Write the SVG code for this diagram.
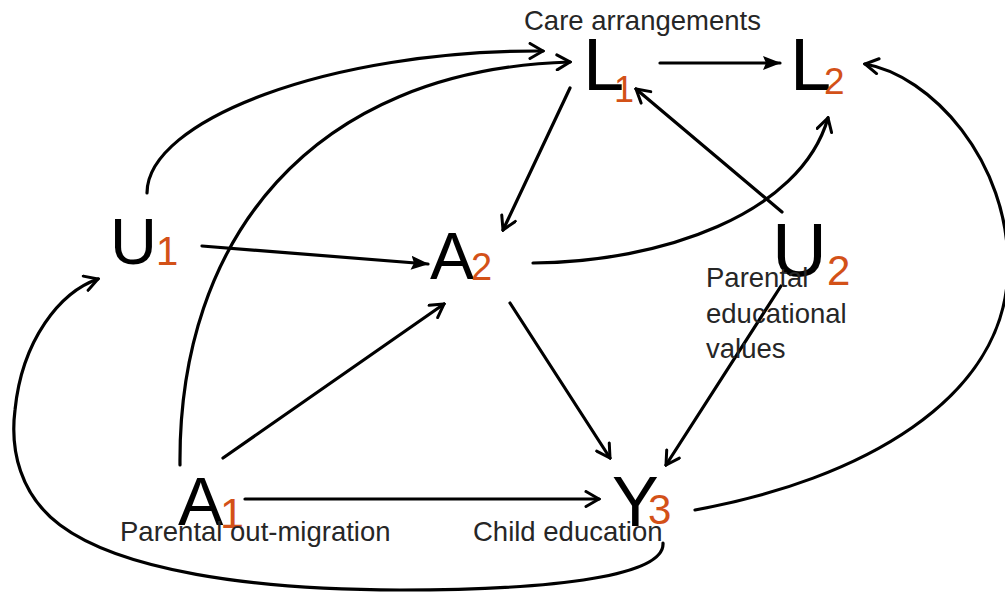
<svg xmlns="http://www.w3.org/2000/svg" width="1005" height="600" viewBox="0 0 1005 600">
<defs>
<style>
.big{font-family:"Liberation Sans",Arial,sans-serif;fill:#000}
.sub{font-family:"Liberation Sans",Arial,sans-serif;fill:#D35118}
.lbl{font-family:"Liberation Sans",Arial,sans-serif;font-size:27.5px;fill:#262626}
.c{fill:none;stroke:#000;stroke-width:3.2;stroke-linecap:round}
.o{marker-end:url(#open)}
.f{marker-end:url(#filled)}
</style>
<marker id="open" viewBox="0 0 18 18" refX="16" refY="9" markerWidth="18" markerHeight="18" markerUnits="userSpaceOnUse" orient="auto">
<path d="M3,1.5 L16,9 L3,16.5" fill="none" stroke="#000" stroke-width="3" stroke-linecap="round" stroke-linejoin="miter"/>
</marker>
<marker id="filled" viewBox="0 0 18 14" refX="17" refY="7" markerWidth="18" markerHeight="14" markerUnits="userSpaceOnUse" orient="auto">
<path d="M0,0 L18,7 L0,14 L3,7 z" fill="#000"/>
</marker>
</defs>
<rect width="1005" height="600" fill="#fff"/>
<g id="connectors">
<path class="c f" d="M660,63 L780,63"/>
<path class="c o" d="M147,193 C147,120 330,50 543,51"/>
<path class="c o" d="M180,465 C178,240 310,70 570,62"/>
<path class="c o" d="M570,88 L503,230"/>
<path class="c f" d="M202,246 L428,264"/>
<path class="c o" d="M533,263 C660,262 800,215 828,118"/>
<path class="c o" d="M782,212 L636,89"/>
<path class="c o" d="M781,286 L666,465"/>
<path class="c o" d="M510,303 L610,458"/>
<path class="c o" d="M223,458 L444,304"/>
<path class="c o" d="M245,499 L599,499"/>
<path class="c o" d="M695,510 C860,480 1005,400 1008,270 C1010,160 930,75 865,64"/>
<path class="c o" d="M663,543 C665,575 560,590 400,590 C250,590 120,570 60,525 C20,495 10,450 15,410 C22,340 60,292 98,279"/>
</g>
<g id="L1">
<text class="big" x="583" y="90" font-size="74">L</text>
<text class="sub" x="614" y="102" font-size="36">1</text>
<text class="lbl" x="524" y="30">Care arrangements</text>
</g>
<g id="L2">
<text class="big" x="790" y="90" font-size="74">L</text>
<text class="sub" x="824" y="94" font-size="37">2</text>
</g>
<g id="U1">
<text class="big" x="110" y="264" font-size="65">U</text>
<text class="sub" x="156" y="265" font-size="40">1</text>
</g>
<g id="A2">
<text class="big" x="430" y="279" font-size="66">A</text>
<text class="sub" x="471" y="280" font-size="38">2</text>
</g>
<g id="U2">
<text class="big" x="772" y="276" font-size="76">U</text>
<text class="sub" x="827" y="285" font-size="42">2</text>
<text class="lbl" x="706" y="287">Parental</text>
<text class="lbl" x="706" y="323">educational</text>
<text class="lbl" x="706" y="358">values</text>
</g>
<g id="A1">
<text class="big" x="178" y="525" font-size="68">A</text>
<text class="sub" x="220" y="528" font-size="43">1</text>
<text class="lbl" x="120" y="541">Parental out-migration</text>
</g>
<g id="Y3">
<text class="big" x="612" y="526" font-size="70">Y</text>
<text class="sub" x="648" y="524" font-size="42">3</text>
<text class="lbl" x="473" y="541">Child education</text>
</g>
</svg>
